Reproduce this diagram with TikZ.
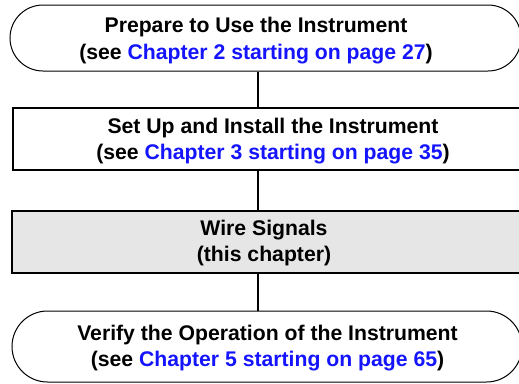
\documentclass[tikz,border=0pt]{standalone}
\usepackage{fontspec}
\setmainfont{Liberation Sans}
\usetikzlibrary{shapes.misc}
\definecolor{linkblue}{RGB}{20,20,255}
\definecolor{boxgray}{RGB}{230,230,230}
\newcommand{\lnk}[1]{\textcolor{linkblue}{#1}}
\begin{document}
\begin{tikzpicture}[x=1pt,y=-1pt,
  every node/.style={font=\fontsize{21.2}{26.5}\selectfont\bfseries, align=center, inner sep=0pt},
  termbox/.style={rounded rectangle, draw=black, line width=1pt},
  stepbox/.style={rectangle, draw=black, line width=1.8pt},
  link/.style={line width=1.5pt}]
\clip (0,0) rectangle (519,383);
\node[termbox, minimum width=511pt, minimum height=66pt] (t1) at (265.5,38) {};
\node (t1txt) at (256,40.5) {Prepare to Use the Instrument\\(see \lnk{Chapter 2 starting on page 27})};
\node[stepbox, minimum width=518pt, minimum height=62pt] (s2) at (272,139) {};
\node (s2txt) at (273,141) {Set Up and Install the Instrument\\(see \lnk{Chapter 3 starting on page 35})};
\node[stepbox, fill=boxgray, minimum width=522pt, minimum height=62pt] (s3) at (273,242) {};
\node (s3txt) at (264,243) {Wire Signals\\(this chapter)};
\node[termbox, minimum width=510pt, minimum height=71pt] (t2) at (267,346.5) {};
\node (t2txt) at (267.5,348) {Verify the Operation of the Instrument\\(see \lnk{Chapter 5 starting on page 65})};
\coordinate (spine) at (258,0);
\draw[link] (t1.south -| spine) -- (s2.north -| spine);
\draw[link] (s2.south -| spine) -- (s3.north -| spine);
\draw[link] (s3.south -| spine) -- (t2.north -| spine);
\end{tikzpicture}
\end{document}
